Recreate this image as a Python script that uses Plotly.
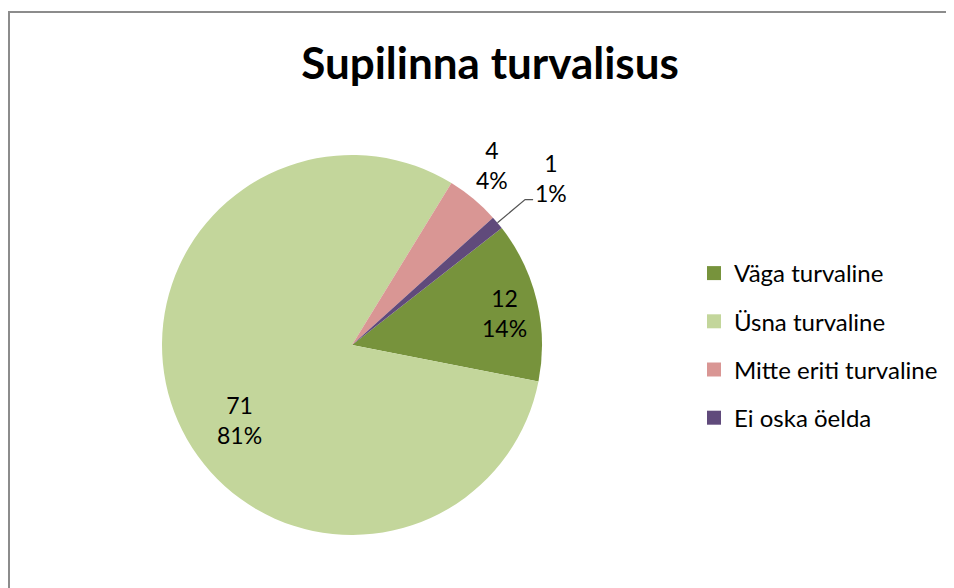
import math
import plotly.graph_objects as go

labels = ["Väga turvaline", "Üsna turvaline", "Mitte eriti turvaline", "Ei oska öelda"]
values = [12, 71, 4, 1]
percents = ["14%", "81%", "4%", "1%"]
colors = ["#77933C", "#C3D69B", "#D99694", "#604A7B"]

W, H = 954, 588
OFF = 8  # page body margin offset
FONT = "Lato, Carlito, Calibri, sans-serif"

def px(X):
    return (X - OFF) / W

def py(Y):
    return 1 - (Y - OFF) / H

# pie geometry (page pixels) and data-label placement style
CX, CY, R = 352, 345, 190
ROT = 52
label_rf = [0.82, 0.71, 1.2, 1.37]      # label distance as fraction of radius
label_da = [1.5, -10.0, -2.0, 0.0]      # angular nudge of label (degrees)
leader = [False, False, False, True]

texts = [f"{v}<br>{p}" for v, p in zip(values, percents)]

fig = go.Figure()
fig.add_trace(go.Pie(
    labels=labels,
    values=values,
    textinfo="none",
    marker=dict(colors=colors, line=dict(width=0)),
    sort=False,
    direction="clockwise",
    rotation=ROT,
    domain=dict(x=[px(CX - R), px(CX + R)], y=[py(CY + R), py(CY - R)]),
    showlegend=False,
    hoverinfo="label+value+percent",
))

# legend entries (square swatches)
for lab, col in zip(labels, colors):
    fig.add_trace(go.Scatter(
        x=[None], y=[None], mode="markers", name=lab, legendgroup=lab,
        marker=dict(symbol="square", size=14, color=col),
        hoverinfo="skip",
    ))

# data labels computed from slice angles
total = sum(values)
annotations = []
shapes = []
cum = 0
for i, v in enumerate(values):
    a0 = ROT + cum / total * 360
    cum += v
    a1 = ROT + cum / total * 360
    mid = math.radians((a0 + a1) / 2)
    la = math.radians((a0 + a1) / 2 + label_da[i])
    rf = label_rf[i]
    LX = CX + R * rf * math.sin(la)
    LY = CY - R * rf * math.cos(la)
    annotations.append(dict(
        text=texts[i], x=px(LX), y=py(LY), xref="paper", yref="paper",
        xanchor="center", yanchor="middle", showarrow=False, align="center",
        font=dict(family=FONT, size=23, color="#000000"),
    ))
    if leader[i]:
        ex, ey = CX + R * math.sin(mid), CY - R * math.cos(mid)
        kx, ky = CX + R * 1.19 * math.sin(mid), CY - R * 1.19 * math.cos(mid)
        hx = kx + 8
        path = f"M {px(ex)} {py(ey)} L {px(kx)} {py(ky)} L {px(hx)} {py(ky)}"
        shapes.append(dict(type="path", xref="paper", yref="paper", path=path,
                           line=dict(color="#555555", width=1.2)))

# chart border
shapes.append(dict(type="rect", xref="paper", yref="paper",
                   x0=1 / W, x1=1.05, y0=-0.05, y1=1 - 4 / H,
                   line=dict(color="#8C8C8C", width=2), fillcolor="rgba(0,0,0,0)"))

fig.update_layout(
    width=W, height=H,
    margin=dict(l=0, r=0, t=0, b=0),
    paper_bgcolor="white",
    plot_bgcolor="white",
    xaxis=dict(visible=False),
    yaxis=dict(visible=False),
    title=dict(text="<b>Supilinna turvalisus</b>", x=px(490), xanchor="center",
               y=py(64), yanchor="middle",
               font=dict(family=FONT, size=44, color="#000000")),
    legend=dict(x=px(694), y=py(251), xanchor="left", yanchor="top",
                font=dict(family=FONT, size=24, color="#000000"),
                traceorder="grouped", tracegroupgap=14, itemsizing="trace",
                bgcolor="rgba(0,0,0,0)"),
    showlegend=True,
    annotations=annotations,
    shapes=shapes,
)

fig.write_html("out.html")
